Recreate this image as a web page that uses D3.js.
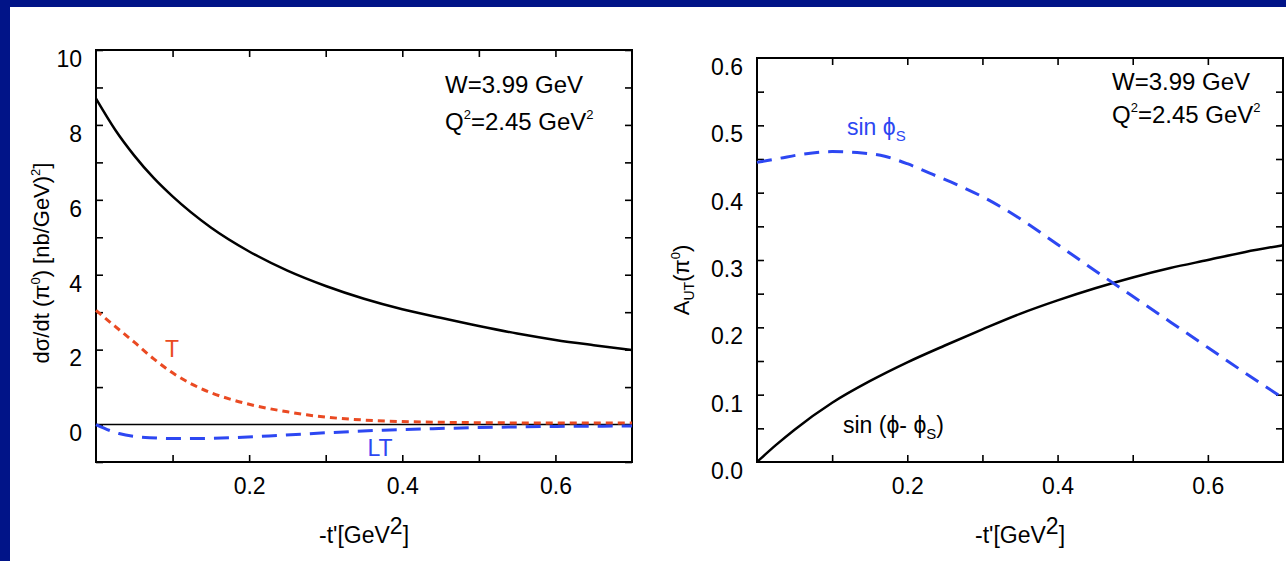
<!DOCTYPE html>
<html>
<head>
<meta charset="utf-8">
<script src="https://cdn.jsdelivr.net/npm/d3@7"></script>
<style>
  body { margin: 0; background: #011488; }
  svg { display: block; }
  text { font-family: "Liberation Sans", Arial, Helvetica, sans-serif; }
  .axis text { font-size: 23px; fill: #000; }
  .axis line { stroke: #000; stroke-width: 1.6px; }
</style>
</head>
<body>
<svg width="1286" height="561"></svg>
<script>
// waardes
var tTotal   = [0, 0.025, 0.05, 0.075, 0.1, 0.15, 0.2, 0.25, 0.3, 0.35, 0.4, 0.45, 0.5, 0.55, 0.6, 0.65, 0.7];
var sigTotal = [8.7, 7.87, 7.18, 6.59, 6.09, 5.26, 4.62, 4.11, 3.7, 3.36, 3.08, 2.85, 2.63, 2.43, 2.26, 2.12, 1.99];

var tT   = [0, 0.025, 0.05, 0.075, 0.1, 0.125, 0.15, 0.175, 0.2, 0.225, 0.25, 0.275, 0.3, 0.35, 0.4, 0.45, 0.5, 0.6, 0.7];
var sigT = [3.05, 2.62, 2.2, 1.76, 1.38, 1.08, 0.85, 0.68, 0.54, 0.43, 0.34, 0.26, 0.2, 0.12, 0.08, 0.06, 0.05, 0.04, 0.04];

var tLT   = [0, 0.03, 0.07, 0.11, 0.18, 0.24, 0.31, 0.375, 0.44, 0.53, 0.6, 0.7];
var sigLT = [0, -0.24, -0.35, -0.375, -0.35, -0.29, -0.21, -0.15, -0.11, -0.07, -0.05, -0.04];

var tSinS  = [0, 0.03, 0.06, 0.1, 0.14, 0.17, 0.2, 0.234, 0.27, 0.3, 0.345, 0.4, 0.45, 0.5, 0.55, 0.6, 0.65, 0.7];
var autSinS = [0.445, 0.451, 0.457, 0.461, 0.459, 0.454, 0.443, 0.427, 0.41, 0.394, 0.365, 0.323, 0.284, 0.246, 0.208, 0.17, 0.132, 0.095];

var tSinD  = [0, 0.025, 0.05, 0.1, 0.15, 0.2, 0.25, 0.3, 0.35, 0.4, 0.45, 0.5, 0.55, 0.6, 0.65, 0.7];
var autSinD = [0, 0.025, 0.048, 0.088, 0.12, 0.148, 0.173, 0.197, 0.22, 0.24, 0.258, 0.274, 0.288, 0.3, 0.312, 0.322];

var xTicks = [0.1, 0.2, 0.3, 0.4, 0.5, 0.6];
var xLabels = [0.2, 0.4, 0.6];
var yTicksL = [-1, 0, 1, 2, 3, 4, 5, 6, 7, 8, 9, 10];
var yLabelsL = [0, 2, 4, 6, 8, 10];
var yTicksR = [0.05, 0.1, 0.15, 0.2, 0.25, 0.3, 0.35, 0.4, 0.45, 0.5, 0.55];
var yLabelsR = [0, 0.1, 0.2, 0.3, 0.4, 0.5, 0.6];

var red = "#ea4a22", blue = "#2d47f2";
var phi = "\u03d5";

var svg = d3.select("svg");
svg.append("rect").attr("width", 1286).attr("height", 561).attr("fill", "#011488");
svg.append("rect").attr("x", 10).attr("y", 7).attr("width", 1276).attr("height", 554).attr("fill", "#fff");

function zip(xs, ys) { return xs.map(function(d, i) { return [d, ys[i]]; }); }

// tekent een paneel met kader, ticks aan alle kanten en labels
function panel(box, yDomain, yTicks, yLabels, yFmt) {
  var g = svg.append("g").attr("transform", "translate(" + box.left + "," + box.top + ")");
  var w = box.width, h = box.height;
  var x = d3.scaleLinear().domain([0, 0.7]).range([0, w]);
  var y = d3.scaleLinear().domain(yDomain).range([h, 0]);

  var noLab = function() { return ""; };
  g.append("g").attr("class", "axis").attr("transform", "translate(0," + h + ")")
    .call(d3.axisBottom(x).tickValues(xTicks).tickSize(-7).tickSizeOuter(0).tickPadding(16)
      .tickFormat(function(d) { return xLabels.indexOf(d) >= 0 ? d3.format(".1f")(d) : ""; }));
  g.append("g").attr("class", "axis")
    .call(d3.axisTop(x).tickValues(xTicks).tickSize(-7).tickSizeOuter(0).tickFormat(noLab));
  g.append("g").attr("class", "axis")
    .call(d3.axisLeft(y).tickValues(yTicks).tickSize(-7).tickSizeOuter(0).tickFormat(noLab));
  g.append("g").attr("class", "axis").attr("transform", "translate(" + w + ",0)")
    .call(d3.axisRight(y).tickValues(yTicks).tickSize(-7).tickSizeOuter(0).tickFormat(noLab));
  // labels van de y-as, iets onder de tick
  var yl = g.append("g").attr("class", "axis")
    .call(d3.axisLeft(y).tickValues(yLabels).tickSize(0).tickSizeOuter(0).tickPadding(14).tickFormat(yFmt));
  yl.selectAll("text").attr("dy", "0.71em");
  g.selectAll(".domain").remove();

  g.append("rect").attr("width", w).attr("height", h)
    .attr("fill", "none").attr("stroke", "#000").attr("stroke-width", 2);

  g.x = x; g.y = y;
  return g;
}

function curve(g, pts, color, width, dash) {
  var line = d3.line().curve(d3.curveMonotoneX)
    .x(function(d) { return g.x(d[0]); })
    .y(function(d) { return g.y(d[1]); });
  g.append("path").datum(pts)
    .attr("d", line).attr("fill", "none")
    .attr("stroke", color).attr("stroke-width", width)
    .attr("stroke-dasharray", dash || null);
}

function xTitle(cx) {
  var t = svg.append("text").attr("x", cx).attr("y", 543).attr("text-anchor", "middle")
    .style("font-size", "23px");
  t.append("tspan").text("-t'[GeV");
  t.append("tspan").attr("dy", -9).text("2");
  t.append("tspan").attr("dy", 9).text("]");
}

function info(x0, y0, y1) {
  svg.append("text").attr("x", x0).attr("y", y0).style("font-size", "24px").text("W=3.99 GeV");
  var q = svg.append("text").attr("x", x0).attr("y", y1).style("font-size", "24px");
  q.append("tspan").text("Q");
  q.append("tspan").attr("dy", -11).style("font-size", "13px").text("2");
  q.append("tspan").attr("dy", 11).text("=2.45 GeV");
  q.append("tspan").attr("dy", -11).style("font-size", "13px").text("2");
}

// linker paneel: werkzame doorsnede
var L = panel({left: 96, top: 50, width: 536, height: 412}, [-1, 10], yTicksL, yLabelsL, d3.format("d"));
L.append("line").attr("x1", 0).attr("x2", L.x(0.7)).attr("y1", L.y(0)).attr("y2", L.y(0))
  .attr("stroke", "#000").attr("stroke-width", 1.5);
curve(L, zip(tTotal, sigTotal), "#000", 2.5);
curve(L, zip(tT, sigT), red, 3, "7,5");
curve(L, zip(tLT, sigLT), blue, 3, "15,9");

svg.append("text").attr("x", 172).attr("y", 357).attr("text-anchor", "middle")
  .attr("fill", red).style("font-size", "23px").text("T");
svg.append("text").attr("x", 380).attr("y", 456).attr("text-anchor", "middle")
  .attr("fill", blue).style("font-size", "23px").text("LT");
info(445, 93, 130);
xTitle(364);

var yt = svg.append("text").attr("transform", "translate(49,263) rotate(-90)")
  .attr("text-anchor", "middle").style("font-size", "22px");
yt.append("tspan").text("d\u03c3/dt (\u03c0");
yt.append("tspan").attr("dy", -9).style("font-size", "13px").text("0");
yt.append("tspan").attr("dy", 9).text(")  [nb/GeV)");
yt.append("tspan").attr("dy", -9).style("font-size", "13px").text("2");
yt.append("tspan").attr("dy", 9).text("]");

// rechter paneel: asymmetrie
var R = panel({left: 757, top: 58, width: 526, height: 404}, [0, 0.6], yTicksR, yLabelsR, d3.format(".1f"));
curve(R, zip(tSinD, autSinD), "#000", 2.5);
curve(R, zip(tSinS, autSinS), blue, 3, "15,9");

var s1 = svg.append("text").attr("x", 847).attr("y", 135).attr("fill", blue).style("font-size", "23px");
s1.append("tspan").text("sin " + phi);
s1.append("tspan").attr("dy", 6).style("font-size", "15px").text("S");

var s2 = svg.append("text").attr("x", 843).attr("y", 433).attr("fill", "#000").style("font-size", "23px");
s2.append("tspan").text("sin (" + phi + "- " + phi);
s2.append("tspan").attr("dy", 6).style("font-size", "15px").text("S");
s2.append("tspan").attr("dy", -6).text(")");

info(1112, 90, 123);
xTitle(1020);

var ya = svg.append("text").attr("transform", "translate(689,280) rotate(-90)")
  .attr("text-anchor", "middle").style("font-size", "22px");
ya.append("tspan").text("A");
ya.append("tspan").attr("dy", 5).style("font-size", "14px").text("UT");
ya.append("tspan").attr("dy", -5).text("(\u03c0");
ya.append("tspan").attr("dy", -9).style("font-size", "13px").text("0");
ya.append("tspan").attr("dy", 9).text(")");
</script>
</body>
</html>
